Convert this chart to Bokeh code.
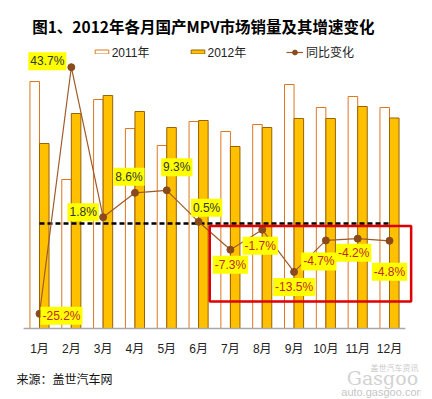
from bokeh.plotting import figure
from bokeh.models import (Range1d, LinearAxis, FixedTicker, ColumnDataSource,
                          Legend, LegendItem, BoxAnnotation, Label)
from bokeh.transform import dodge
from bokeh.embed import file_html
from bokeh.resources import INLINE
from bokeh.core.properties import value

# ---------------- data ----------------
months = ["1月", "2月", "3月", "4月", "5月", "6月",
          "7月", "8月", "9月", "10月", "11月", "12月"]
month_idx = list(range(1, 13))
sales_2011 = [49400, 29800, 45800, 40000, 36600, 41400,
              39400, 40800, 48800, 44200, 46400, 44200]
sales_2012 = [37000, 43000, 46600, 43400, 40200, 41600,
              36400, 40200, 42000, 42000, 44400, 42100]
yoy_pct = [-25.2, 43.7, 1.8, 8.6, 9.3, 0.5,
           -7.3, -1.7, -13.5, -4.7, -4.2, -4.8]
series_names = ["2011年", "2012年", "同比变化"]
title_text = "图1、2012年各月国产MPV市场销量及其增速变化"
source_text = "来源：盖世汽车网"
highlight_months = [7, 12]

# ---------------- styles ----------------
label_dx = [22, -24, -20, -6, 10, 8, 0, -2, 0, -7, -4, 0]
label_dy = [2, -6, -5, -16, -23, -14, 15, 16, 15, 21, 14, 31]
POS_COLOR = "#333333"
NEG_COLOR = "#C0282A"
LATIN = "Liberation Sans, Noto Sans CJK SC"
CJK = "Noto Sans CJK SC"

src = ColumnDataSource(dict(
    x=month_idx, s2011=sales_2011, s2012=sales_2012, yoy=yoy_pct,
    lbl=[f"{v:.1f}%" for v in yoy_pct],
    lc=[NEG_COLOR if v < 0 else POS_COLOR for v in yoy_pct],
    dx=label_dx, dy=label_dy,
))

p = figure(width=432, height=399,
           x_range=Range1d(0.2772, 12.974), y_range=Range1d(-14200, 65600),
           output_backend="svg", toolbar_location=None,
           min_border_left=16, min_border_right=12, min_border_top=0,
           min_border_bottom=0, outline_line_color=None,
           x_axis_type=None, y_axis_type=None)
p.extra_y_ranges = {"pct": Range1d(-49.15, 62.34)}

# bars
r11 = p.vbar(x=dodge("x", -0.15), top="s2011", bottom=0, width=0.3, source=src,
             fill_color="white", line_color="#E0761E", line_width=1)
r12 = p.vbar(x=dodge("x", 0.15), top="s2012", bottom=0, width=0.3, source=src,
             fill_color="#FFC000", line_color="#9A6206", line_width=1)

# baseline
p.segment(x0=[month_idx[0] - 0.5], x1=[month_idx[-1] + 0.5], y0=[0], y1=[0],
          line_color="#A8A8A8", line_width=1.5)

# zero reference (dashed)
p.line(x=[month_idx[0], month_idx[-1]], y=[0, 0], y_range_name="pct",
       line_color="black", line_width=2.5, line_dash="5 3")

# yoy line
rl = p.line("x", "yoy", source=src, y_range_name="pct",
            line_color="#9E5A2A", line_width=1.2)
rs = p.scatter("x", "yoy", source=src, y_range_name="pct", size=7,
               fill_color="#8B4A1C", line_color="#8B4A1C")

# highlight box
p.add_layout(BoxAnnotation(left=highlight_months[0] - 0.65,
                           right=highlight_months[1] + 0.68,
                           top=-0.7, bottom=-21.8, y_range_name="pct",
                           fill_alpha=0, line_color="#E00000", line_alpha=1,
                           line_width=2.5))

# value labels
p.text(x="x", y="yoy", text="lbl", source=src, y_range_name="pct",
       x_offset="dx", y_offset="dy", text_align="center",
       text_baseline="middle", text_font=value("Liberation Sans"),
       text_font_size="12px", text_color="lc",
       background_fill_color="#FFFF00", padding=2)

# x axis fixed at the bar baseline
xaxis = LinearAxis(ticker=FixedTicker(ticks=month_idx), fixed_location=0,
                   major_label_overrides=dict(zip(month_idx, months)),
                   axis_line_color=None, major_tick_line_color=None,
                   minor_tick_line_color=None, major_tick_out=0,
                   major_tick_in=0, major_label_standoff=13,
                   major_label_text_font_size="12px",
                   major_label_text_font=LATIN,
                   major_label_text_color="#222222")
p.add_layout(xaxis, "below")

# legends
leg1 = Legend(items=[LegendItem(label=series_names[0], renderers=[r11]),
                     LegendItem(label=series_names[1], renderers=[r12])],
              orientation="horizontal", location=(76.7, 339),
              glyph_width=17, glyph_height=5, label_standoff=2, spacing=39,
              padding=0, margin=0, border_line_color=None,
              background_fill_alpha=0, label_text_font_size="12px",
              label_text_font=LATIN, label_text_color="#222222")
leg2 = Legend(items=[LegendItem(label=series_names[2], renderers=[rl, rs])],
              orientation="horizontal", location=(270, 339),
              glyph_width=17, glyph_height=12, label_standoff=3,
              padding=0, margin=0, border_line_color=None,
              background_fill_alpha=0, label_text_font_size="12px",
              label_text_font=LATIN, label_text_color="#222222")
p.add_layout(leg1, "center")
p.add_layout(leg2, "center")

# title / source / watermark
p.add_layout(Label(x=0.7706, y=60500, text=title_text, text_font=CJK,
                   text_font_size="15.5px", text_font_style="bold",
                   text_baseline="middle", text_color="black"))
p.add_layout(Label(x=0.2772, y=-10000, text=source_text, text_font=CJK,
                   text_font_size="12px", text_baseline="middle",
                   text_color="#111111"))
p.add_layout(Label(x=12.16, y=-7740, text="盖世汽车资讯", text_font=CJK,
                   text_font_size="8px", text_baseline="middle",
                   text_align="center", text_color="#C9C9C9"))
p.add_layout(Label(x=11.78, y=-9800, text="Gasgoo", text_font="DejaVu Serif",
                   text_font_size="19px", text_baseline="middle",
                   text_align="center", text_color="#D2D2D2"))
p.add_layout(Label(x=11.81, y=-12700, text="auto.gasgoo.com",
                   text_font="Liberation Sans", text_font_size="11px",
                   text_baseline="middle", text_align="center",
                   text_color="#C6C6C6"))

open("out.html", "w").write(file_html(p, INLINE))
